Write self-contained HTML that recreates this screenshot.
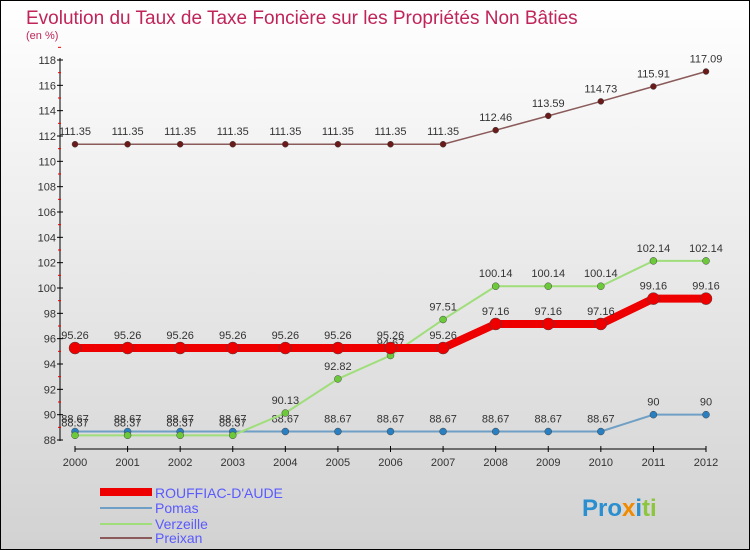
<!DOCTYPE html>
<html><head><meta charset="utf-8"><style>
body{margin:0;width:750px;height:550px;overflow:hidden;font-family:"Liberation Sans",sans-serif}
svg{display:block}
</style></head><body>
<svg width="750" height="550" xmlns="http://www.w3.org/2000/svg">
<defs><linearGradient id="bg" x1="0" y1="0" x2="0" y2="1"><stop offset="0" stop-color="#ffffff"/><stop offset="1" stop-color="#d2d2d2"/></linearGradient></defs>
<rect x="0.5" y="0.5" width="749" height="549" fill="url(#bg)" stroke="#000"/>
<text x="26" y="24" font-size="19" fill="#c0245a">Evolution du Taux de Taxe Foncière sur les Propriétés Non Bâties</text>
<text x="26" y="39" font-size="11" fill="#c0245a">(en %)</text>
<g id="axes"></g>
<g id="series"></g>
<g id="legend" font-size="14" fill="#5a5aff">
<rect x="100" y="488" width="52" height="8" fill="#ee0000"/>
<text x="155" y="498">ROUFFIAC-D'AUDE</text>
<rect x="100" y="507" width="52" height="2" fill="#6f9fc4"/>
<text x="155" y="513">Pomas</text>
<rect x="100" y="523" width="52" height="2" fill="#9fde7a"/>
<text x="155" y="529">Verzeille</text>
<rect x="100" y="537" width="52" height="2" fill="#8b5a5a"/>
<text x="155" y="543">Preixan</text>
</g>
<text x="582" y="516" font-size="24" font-weight="bold"><tspan fill="#2a8fd0">Pro</tspan><tspan fill="#f08a00">x</tspan><tspan fill="#2a8fd0">i</tspan><tspan fill="#8cc63f">ti</tspan></text>
</svg>
<script>
const years=[2000,2001,2002,2003,2004,2005,2006,2007,2008,2009,2010,2011,2012];
const rouffiac=[95.26,95.26,95.26,95.26,95.26,95.26,95.26,95.26,97.16,97.16,97.16,99.16,99.16];
const pomas=[88.67,88.67,88.67,88.67,88.67,88.67,88.67,88.67,88.67,88.67,88.67,90,90];
const verzeille=[88.37,88.37,88.37,88.37,90.13,92.82,94.67,97.51,100.14,100.14,100.14,102.14,102.14];
const preixan=[111.35,111.35,111.35,111.35,111.35,111.35,111.35,111.35,112.46,113.59,114.73,115.91,117.09];
const yTicks=[88,90,92,94,96,98,100,102,104,106,108,110,112,114,116,118];
const NS='http://www.w3.org/2000/svg';
const x=i=>75+i*(706-75)/(years.length-1);
const y=v=>440-(v-88)*(380/30);
function mk(t,a,p){const e=document.createElementNS(NS,t);for(const k in a)e.setAttribute(k,a[k]);p.appendChild(e);return e;}
const ax=document.getElementById('axes');
mk('line',{x1:60,y1:58,x2:60,y2:441,stroke:'#000'},ax);
mk('line',{x1:75,y1:449,x2:706,y2:449,stroke:'#000'},ax);
yTicks.forEach(v=>{
 mk('line',{x1:57,y1:y(v),x2:63,y2:y(v),stroke:'#000'},ax);
 mk('line',{x1:58,y1:y(v+1),x2:61,y2:y(v+1),stroke:'#e00'},ax);
 const t=mk('text',{x:56,y:y(v)+4,'font-size':11,fill:'#333','text-anchor':'end'},ax);
 
 
 t.textContent=v;
});
years.forEach((yr,i)=>{
 mk('line',{x1:x(i),y1:446,x2:x(i),y2:452,stroke:'#000'},ax);
 const t=mk('text',{x:x(i),y:466,'font-size':11,fill:'#333','text-anchor':'middle'},ax);
 
 
 t.textContent=yr;
});
const sg=document.getElementById('series');
function draw(name,vals,color,dot,w,r){
 const g=mk('g',{},sg);
 
 
 mk('polyline',{points:vals.map((v,i)=>x(i)+','+y(v)).join(' '),fill:'none',stroke:color,'stroke-width':w,'stroke-linejoin':'round'},g);
 vals.forEach((v,i)=>{
  const c=mk('circle',{cx:x(i),cy:y(v),r:r,fill:dot,stroke:'#444','stroke-width':0.5},g);
  
  
  const t=mk('text',{x:x(i),y:y(v)-9,'font-size':11,fill:'#333','text-anchor':'middle'},g);
  
  
  t.textContent=v;
 });
}
draw('preixan',preixan,'#8b5a5a','#6b1a1a',1.5,3);
draw('pomas',pomas,'#6f9fc4','#2a7fc0',2,3.5);
draw('verzeille',verzeille,'#9fde7a','#6cc93a',2,3.5);
draw('rouffiac',rouffiac,'#ee0000','#ee0000',8,6);
</script>
</body></html>
